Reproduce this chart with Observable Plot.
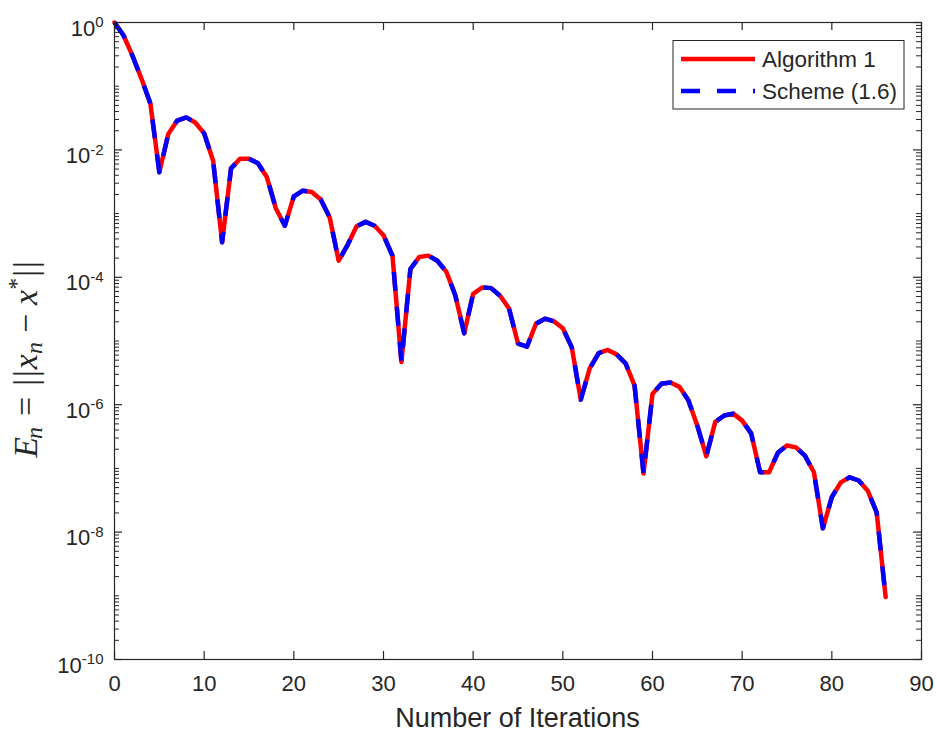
<!DOCTYPE html>
<html>
<head>
<meta charset="utf-8">
<script src="https://cdn.jsdelivr.net/npm/d3@7"></script>
<script src="https://cdn.jsdelivr.net/npm/@observablehq/plot@0.6"></script>
<style>
  html, body { margin: 0; padding: 0; background: #fff; }
  #chart { width: 937px; height: 733px; }
</style>
</head>
<body>
<div id="chart"></div>
<script>
// ---- data ----
const iterations = d3.range(0, 87);
// log10 of E_n = ||x_n - x*|| for n = 0..86 (both curves coincide)
const log10Error = [
  0.00, -0.20, -0.52, -0.88, -1.27, -2.35, -1.75, -1.54, -1.49, -1.57,
  -1.74, -2.17, -3.45, -2.29, -2.14, -2.14, -2.21, -2.43, -2.92, -3.19,
  -2.73, -2.64, -2.66, -2.78, -3.06, -3.74, -3.49, -3.20, -3.13, -3.19,
  -3.34, -3.66, -5.33, -3.87, -3.68, -3.66, -3.74, -3.91, -4.28, -4.88,
  -4.26, -4.16, -4.17, -4.29, -4.49, -5.04, -5.09, -4.73, -4.65, -4.69,
  -4.80, -5.10, -5.92, -5.43, -5.19, -5.14, -5.21, -5.35, -5.70, -7.08,
  -5.83, -5.67, -5.65, -5.72, -5.93, -6.33, -6.81, -6.27, -6.17, -6.14,
  -6.25, -6.45, -7.06, -7.06, -6.75, -6.64, -6.67, -6.80, -7.06, -7.94,
  -7.45, -7.22, -7.14, -7.19, -7.35, -7.69, -9.02
];
const seriesNames = ["Algorithm 1", "Scheme (1.6)"];
const xTicks = [0, 10, 20, 30, 40, 50, 60, 70, 80, 90];
const yMajorExponents = [0, -2, -4, -6, -8, -10];
const xLabel = "Number of Iterations";

// ---- derived tables ----
const data = iterations.map((n, i) => ({n, e: Math.pow(10, log10Error[i])}));
const yMajor = yMajorExponents.map(k => Math.pow(10, k));
const yMinor = [];
for (let k = -10; k < 0; k++) for (let m = 1; m <= 9; m++) {
  if (m === 1 && k % 2 === 0) continue;
  yMinor.push(m * Math.pow(10, k));
}

const W = 937, H = 733, mL = 114, mR = 16, mT = 22, mB = 74;
const fw = W - mL - mR, fh = H - mT - mB;
const ink = "#262626";
const font = "'Liberation Sans', Arial, Helvetica, sans-serif";
const serif = "'Liberation Serif', 'Times New Roman', serif";

const chart = Plot.plot({
  width: W, height: H,
  marginLeft: mL, marginRight: mR, marginTop: mT, marginBottom: mB,
  style: {fontFamily: font, background: "#fff", color: ink},
  x: {domain: [0, 90], axis: null},
  y: {type: "log", domain: [1e-10, 1], axis: null},
  marks: [
    // curves
    Plot.line(data, {x: "n", y: "e", stroke: "#ff0000", strokeWidth: 4.5, strokeLinejoin: "round", strokeLinecap: "round"}),
    Plot.line(data, {x: "n", y: "e", stroke: "#0000ff", strokeWidth: 4.5, strokeDasharray: "19,16", strokeLinejoin: "round", strokeLinecap: "butt"}),
    // box
    Plot.frame({stroke: ink, strokeWidth: 1.2}),
    // inward ticks x (bottom & top)
    Plot.tickX(xTicks, {x: d => d, stroke: ink, strokeWidth: 1.2, insetTop: fh - 8}),
    Plot.tickX(xTicks, {x: d => d, stroke: ink, strokeWidth: 1.2, insetBottom: fh - 8}),
    // inward ticks y (left & right), major and minor
    Plot.tickY(yMajor, {y: d => d, stroke: ink, strokeWidth: 1.2, insetRight: fw - 8}),
    Plot.tickY(yMajor, {y: d => d, stroke: ink, strokeWidth: 1.2, insetLeft: fw - 8}),
    Plot.tickY(yMinor, {y: d => d, stroke: ink, strokeWidth: 1, insetRight: fw - 5}),
    Plot.tickY(yMinor, {y: d => d, stroke: ink, strokeWidth: 1, insetLeft: fw - 5}),
    // tick labels
    Plot.text(xTicks, {x: d => d, text: d => String(d), frameAnchor: "bottom", lineAnchor: "top", dy: 16, fontSize: 22, fill: ink}),
    Plot.text(yMajor, {y: d => d, text: d => "§" + Math.round(Math.log10(d)), frameAnchor: "left", textAnchor: "end", dx: -11, dy: 6, fontSize: 22, fill: ink})
  ]
});

document.getElementById("chart").appendChild(chart);
const svg = d3.select(chart.tagName.toLowerCase() === "svg" ? chart : chart.querySelector("svg"));

// superscript exponents on the y tick labels
svg.selectAll("text").each(function() {
  const t = d3.select(this);
  const s = this.textContent;
  if (s.startsWith("§")) {
    const exp = s.slice(1);
    t.text("10");
    t.append("tspan").attr("dy", "-0.55em").attr("font-size", 15).text(exp);
  }
});

// x axis label
svg.append("text")
  .attr("x", mL + fw / 2).attr("y", 727)
  .attr("text-anchor", "middle")
  .attr("font-family", font).attr("font-size", 27).attr("fill", ink)
  .text(xLabel);

// y axis label: E_n = ||x_n - x*||
const yl = svg.append("text")
  .attr("transform", `translate(37,${mT + fh / 2 + 19}) rotate(-90)`)
  .attr("text-anchor", "middle")
  .attr("font-family", serif)
  .attr("font-size", 34).attr("fill", ink);
yl.append("tspan").attr("font-style", "italic").text("E");
yl.append("tspan").attr("font-style", "italic").attr("font-size", 24).attr("dy", 5).attr("dx", -2).text("n");
yl.append("tspan").attr("dy", -5).attr("dx", 11).text("=");
yl.append("tspan").attr("dx", 11).text("|");
yl.append("tspan").attr("dx", 2).text("|");
yl.append("tspan").attr("font-style", "italic").attr("dx", 1).text("x");
yl.append("tspan").attr("font-style", "italic").attr("font-size", 24).attr("dy", 5).text("n");
yl.append("tspan").attr("dy", -5).attr("dx", 9).text("\u2212");
yl.append("tspan").attr("font-style", "italic").attr("dx", 9).text("x");
yl.append("tspan").attr("font-size", 24).attr("dy", -13).text("*");
yl.append("tspan").attr("dy", 13).attr("dx", 1).text("|");
yl.append("tspan").attr("dx", 2).text("|");

// legend
const lg = svg.append("g").attr("font-family", font).attr("font-size", 22.5).attr("fill", ink).attr("text-anchor", "start");
lg.append("rect").attr("x", 673).attr("y", 40.5).attr("width", 231).attr("height", 68.5)
  .attr("fill", "#fff").attr("stroke", ink).attr("stroke-width", 1);
lg.append("line").attr("x1", 681).attr("x2", 755).attr("y1", 59).attr("y2", 59)
  .attr("stroke", "#ff0000").attr("stroke-width", 4.5);
lg.append("text").attr("x", 762).attr("y", 67).attr("text-anchor", "start").text(seriesNames[0]);
lg.append("line").attr("x1", 681).attr("x2", 755).attr("y1", 91).attr("y2", 91)
  .attr("stroke", "#0000ff").attr("stroke-width", 4.5).attr("stroke-dasharray", "19,17");
lg.append("text").attr("x", 762).attr("y", 99).attr("text-anchor", "start").text(seriesNames[1]);
</script>
</body>
</html>
